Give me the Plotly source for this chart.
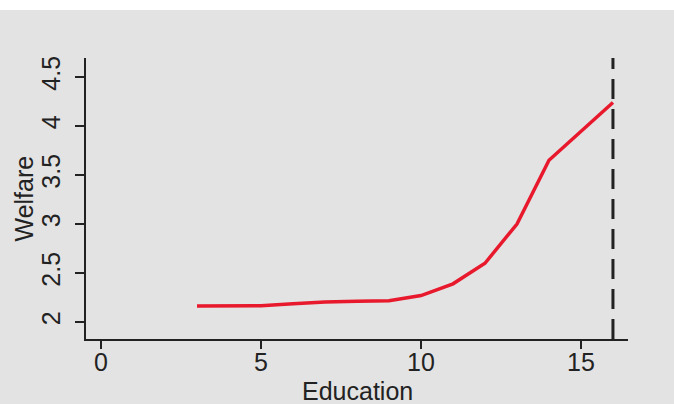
import plotly.graph_objects as go

education = [3, 4, 5, 6, 7, 8, 9, 10, 11, 12, 13, 14, 15, 16]
welfare = [2.163, 2.165, 2.166, 2.187, 2.205, 2.212, 2.217, 2.27, 2.39, 2.60, 3.0, 3.65, 3.95, 4.24]
cutoff_x = 16
x_ticks = [0, 5, 10, 15]
y_ticks = [2, 2.5, 3, 3.5, 4, 4.5]
y_tick_labels = ["2", "2.5", "3", "3.5", "4", "4.5"]
x_title = "Education"
y_title = "Welfare"

BG = "#e3e3e3"
INK = "#222222"
FONT = "Liberation Sans, Arial, Helvetica, sans-serif"
FS = 25

xr = [-0.47, 16.47]
yr = [1.827, 4.694]

fig = go.Figure()
fig.add_trace(go.Scatter(x=education, y=welfare, mode="lines",
                         line=dict(color="#e8192c", width=3.5), hoverinfo="skip",
                         showlegend=False))
# carrier trace for the tick-mark axis
fig.add_trace(go.Scatter(x=[xr[0]], y=[yr[0]], xaxis="x2", mode="markers",
                         marker=dict(opacity=0), hoverinfo="skip", showlegend=False))

fig.add_shape(type="line", xref="x", yref="y", x0=cutoff_x, x1=cutoff_x,
              y0=yr[0], y1=yr[1], line=dict(color=INK, width=3, dash="20px,10px"))

# white strip at top of image
fig.add_shape(type="rect", xref="paper", yref="paper", x0=-0.2, x1=1.2,
              y0=1 + 48 / 281, y1=1 + 60 / 281, line=dict(width=0),
              fillcolor="white", layer="above")

fig.add_annotation(text=x_title, xref="paper", yref="paper", x=0.5, y=0,
                   xanchor="center", yanchor="middle", yshift=-52, showarrow=False,
                   font=dict(size=FS, color=INK, family=FONT))
fig.add_annotation(text=y_title, xref="paper", yref="paper", x=0, y=0.5,
                   xanchor="center", yanchor="middle", xshift=-63, textangle=-90,
                   showarrow=False, font=dict(size=FS, color=INK, family=FONT))

fig.update_layout(
    width=674, height=404,
    margin=dict(l=86, r=46, t=58, b=65, autoexpand=False),
    paper_bgcolor=BG, plot_bgcolor=BG,
    font=dict(family=FONT, size=FS, color=INK),
    showlegend=False,
    xaxis=dict(range=xr, tickvals=x_ticks, showgrid=False, zeroline=False,
               showline=True, linecolor=INK, linewidth=1.5, ticks="",
               automargin=False),
    xaxis2=dict(range=xr, tickvals=x_ticks, overlaying="x", side="bottom", anchor="y",
                showgrid=False, zeroline=False, showline=False, showticklabels=False,
                ticks="outside", ticklen=9, tickwidth=1.5, tickcolor=INK, automargin=False),
    yaxis=dict(range=yr, tickvals=y_ticks, ticktext=y_tick_labels, tickangle=-90,
               showgrid=False, zeroline=False, showline=True, linecolor=INK, linewidth=1.5,
               ticks="outside", ticklen=9, tickwidth=1.5, tickcolor=INK, automargin=False,
               ticklabelstandoff=5),
)

fig.write_html("out.html", config={"displayModeBar": False},
               post_script="document.body.style.margin='0';document.body.style.padding='0';document.body.style.overflow='hidden';")
